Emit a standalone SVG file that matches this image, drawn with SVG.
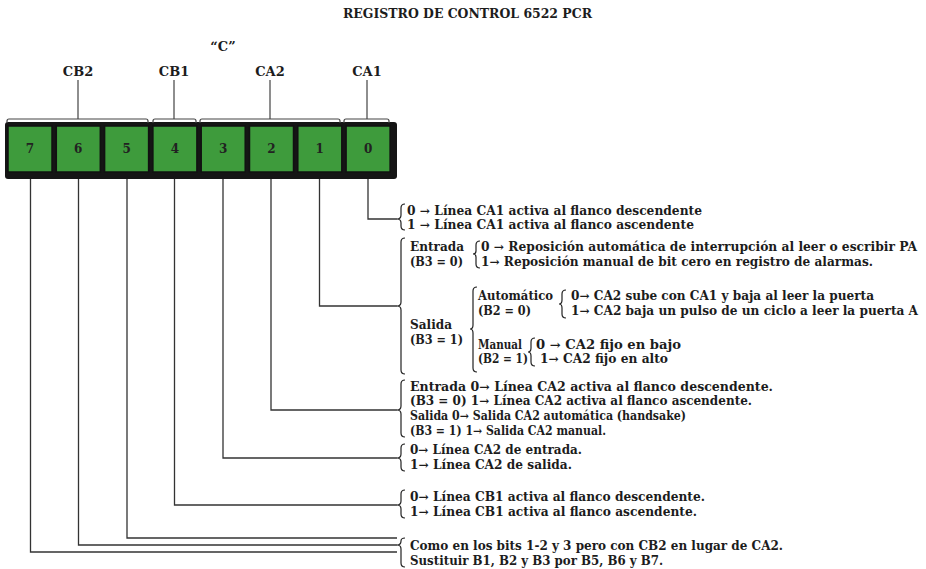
<svg xmlns="http://www.w3.org/2000/svg" width="926" height="569" viewBox="0 0 926 569">
<style>
text{font-family:"DejaVu Serif","Liberation Serif",serif;font-weight:bold;fill:#1c1c1c;font-size:12px}
.t{font-size:12px}
.lbl{font-size:13px;text-anchor:middle}
.cell{fill:#3e9b3c;stroke:#111;stroke-width:1.5}
.num{font-size:12px;text-anchor:middle;fill:#222}
.ln{fill:none;stroke:#333;stroke-width:1.3}
.br{fill:none;stroke:#222;stroke-width:1.2}
.tb{fill:none;stroke:#444;stroke-width:1.2}
</style>
<rect width="926" height="569" fill="#fff"/>
<text x="343" y="18" class="t" textLength="249" lengthAdjust="spacingAndGlyphs">REGISTRO DE CONTROL 6522 PCR</text>
<text x="223" y="51" class="lbl">“C”</text>

<g id="register">
<rect x="5" y="122" width="392" height="57" rx="3" fill="#151515"/>
<g id="bit7"><rect class="cell" x="8" y="126" width="44" height="46"/><text class="num" x="30" y="153">7</text></g>
<g id="bit6"><rect class="cell" x="56.3" y="126" width="44" height="46"/><text class="num" x="78.3" y="153">6</text></g>
<g id="bit5"><rect class="cell" x="104.6" y="126" width="44" height="46"/><text class="num" x="126.6" y="153">5</text></g>
<g id="bit4"><rect class="cell" x="152.9" y="126" width="44" height="46"/><text class="num" x="174.9" y="153">4</text></g>
<g id="bit3"><rect class="cell" x="201.2" y="126" width="44" height="46"/><text class="num" x="223.2" y="153">3</text></g>
<g id="bit2"><rect class="cell" x="249.5" y="126" width="44" height="46"/><text class="num" x="271.5" y="153">2</text></g>
<g id="bit1"><rect class="cell" x="297.8" y="126" width="44" height="46"/><text class="num" x="319.8" y="153">1</text></g>
<g id="bit0"><rect class="cell" x="346.1" y="126" width="44" height="46"/><text class="num" x="368.1" y="153">0</text></g>
</g>

<g id="fields">
<g id="CB2"><text class="lbl" x="78" y="76">CB2</text><path class="tb" d="M7 123 V121 Q7 119 9 119 H146 Q148 119 148 121 V123 M78 80 V119"/></g>
<g id="CB1"><text class="lbl" x="174" y="76">CB1</text><path class="tb" d="M153 123 V121 Q153 119 155 119 H194 Q196 119 196 121 V123 M174 80 V119"/></g>
<g id="CA2"><text class="lbl" x="270" y="76">CA2</text><path class="tb" d="M200 123 V121 Q200 119 202 119 H338 Q340 119 340 121 V123 M270 80 V119"/></g>
<g id="CA1"><text class="lbl" x="367" y="76">CA1</text><path class="tb" d="M344 123 V121 Q344 119 346 119 H387 Q389 119 389 121 V123 M367 80 V119"/></g>
</g>

<g id="connectors">
<path class="ln" d="M368 179 V219 H397"/>
<path class="ln" d="M319.5 179 V306 H397"/>
<path class="ln" d="M271 179 V410 H397"/>
<path class="ln" d="M223 179 V458 H397"/>
<path class="ln" d="M174.5 179 V505 H397"/>
<path class="ln" d="M127 179 V538 H397"/>
<path class="ln" d="M78.5 179 V545 H397"/>
<path class="ln" d="M30.5 179 V552 H397"/>
</g>

<g id="desc-bit0">
<path class="br" d="M405 204 Q401 204 401 208 V215 Q401 219 397 219 Q401 219 401 223 V226 Q401 230 405 230"/>
<text x="407" y="215" textLength="295" lengthAdjust="spacingAndGlyphs">0 → Línea CA1 activa al flanco descendente</text>
<text x="407" y="229" textLength="287" lengthAdjust="spacingAndGlyphs">1 → Línea CA1 activa al flanco ascendente</text>
</g>

<g id="desc-bit1">
<path class="br" d="M405 238 Q401 238 401 242 V302 Q401 306 397 306 Q401 306 401 310 V370 Q401 374 405 374"/>
<text x="410" y="251" textLength="54" lengthAdjust="spacingAndGlyphs">Entrada</text>
<text x="410" y="266" textLength="53" lengthAdjust="spacingAndGlyphs">(B3 = 0)</text>
<path class="br" d="M480 241 Q476 241 476 245 V251 Q476 254 473 254 Q476 254 476 257 V264 Q476 268 480 268"/>
<text x="481" y="251" textLength="436" lengthAdjust="spacingAndGlyphs">0 → Reposición automática de interrupción al leer o escribir PA</text>
<text x="481" y="266" textLength="392" lengthAdjust="spacingAndGlyphs">1→ Reposición manual de bit cero en registro de alarmas.</text>
<text x="410" y="329" textLength="42" lengthAdjust="spacingAndGlyphs">Salida</text>
<text x="410" y="344" textLength="53" lengthAdjust="spacingAndGlyphs">(B3 = 1)</text>
<path class="br" d="M477 287 Q473 287 473 291 V325 Q473 329 470 329 Q473 329 473 333 V368 Q473 372 477 372"/>
<text x="478" y="300" textLength="75" lengthAdjust="spacingAndGlyphs">Automático</text>
<text x="478" y="315" textLength="53" lengthAdjust="spacingAndGlyphs">(B2 = 0)</text>
<path class="br" d="M566 290 Q562 290 562 294 V300 Q562 304 559 304 Q562 304 562 308 V314 Q562 318 566 318"/>
<text x="571" y="300" textLength="303" lengthAdjust="spacingAndGlyphs">0→ CA2 sube con CA1 y baja al leer la puerta</text>
<text x="571" y="315" textLength="347" lengthAdjust="spacingAndGlyphs">1→ CA2 baja un pulso de un ciclo a leer la puerta A</text>
<text x="478" y="349" textLength="44" lengthAdjust="spacingAndGlyphs">Manual</text>
<text x="478" y="363" textLength="50" lengthAdjust="spacingAndGlyphs">(B2 = 1)</text>
<path class="br" d="M535 338 Q531 338 531 342 V348 Q531 352 528 352 Q531 352 531 356 V362 Q531 366 535 366"/>
<text x="536" y="349" textLength="145" lengthAdjust="spacingAndGlyphs">0 → CA2 fijo en bajo</text>
<text x="540" y="363" textLength="128" lengthAdjust="spacingAndGlyphs">1→ CA2 fijo en alto</text>
</g>

<g id="desc-bit2">
<path class="br" d="M405 380 Q401 380 401 384 V406 Q401 410 397 410 Q401 410 401 414 V433 Q401 437 405 437"/>
<text x="410" y="391" textLength="363" lengthAdjust="spacingAndGlyphs">Entrada 0→ Línea CA2 activa al flanco descendente.</text>
<text x="410" y="405" textLength="342" lengthAdjust="spacingAndGlyphs">(B3 = 0) 1→ Línea CA2 activa al flanco ascendente.</text>
<text x="410" y="420" textLength="276" lengthAdjust="spacingAndGlyphs">Salida 0→ Salida CA2 automática (handsake)</text>
<text x="410" y="435" textLength="196" lengthAdjust="spacingAndGlyphs">(B3 = 1) 1→ Salida CA2 manual.</text>
</g>

<g id="desc-bit3">
<path class="br" d="M405 444 Q401 444 401 448 V454 Q401 458 397 458 Q401 458 401 462 V467 Q401 471 405 471"/>
<text x="410" y="454" textLength="172" lengthAdjust="spacingAndGlyphs">0→ Línea CA2 de entrada.</text>
<text x="410" y="469" textLength="162" lengthAdjust="spacingAndGlyphs">1→ Línea CA2 de salida.</text>
</g>

<g id="desc-bit4">
<path class="br" d="M405 490 Q401 490 401 494 V501 Q401 505 397 505 Q401 505 401 509 V514 Q401 518 405 518"/>
<text x="410" y="501" textLength="295" lengthAdjust="spacingAndGlyphs">0→ Línea CB1 activa al flanco descendente.</text>
<text x="410" y="516" textLength="287" lengthAdjust="spacingAndGlyphs">1→ Línea CB1 activa al flanco ascendente.</text>
</g>

<g id="desc-bit567">
<path class="br" d="M405 538 Q401 538 401 541 Q401 545 397 545 Q401 545 401 549 V563 Q401 567 405 567"/>
<text x="410" y="550" textLength="373" lengthAdjust="spacingAndGlyphs">Como en los bits 1-2 y 3 pero con CB2 en lugar de CA2.</text>
<text x="410" y="565" textLength="253" lengthAdjust="spacingAndGlyphs">Sustituir B1, B2 y B3 por B5, B6 y B7.</text>
</g>
</svg>
